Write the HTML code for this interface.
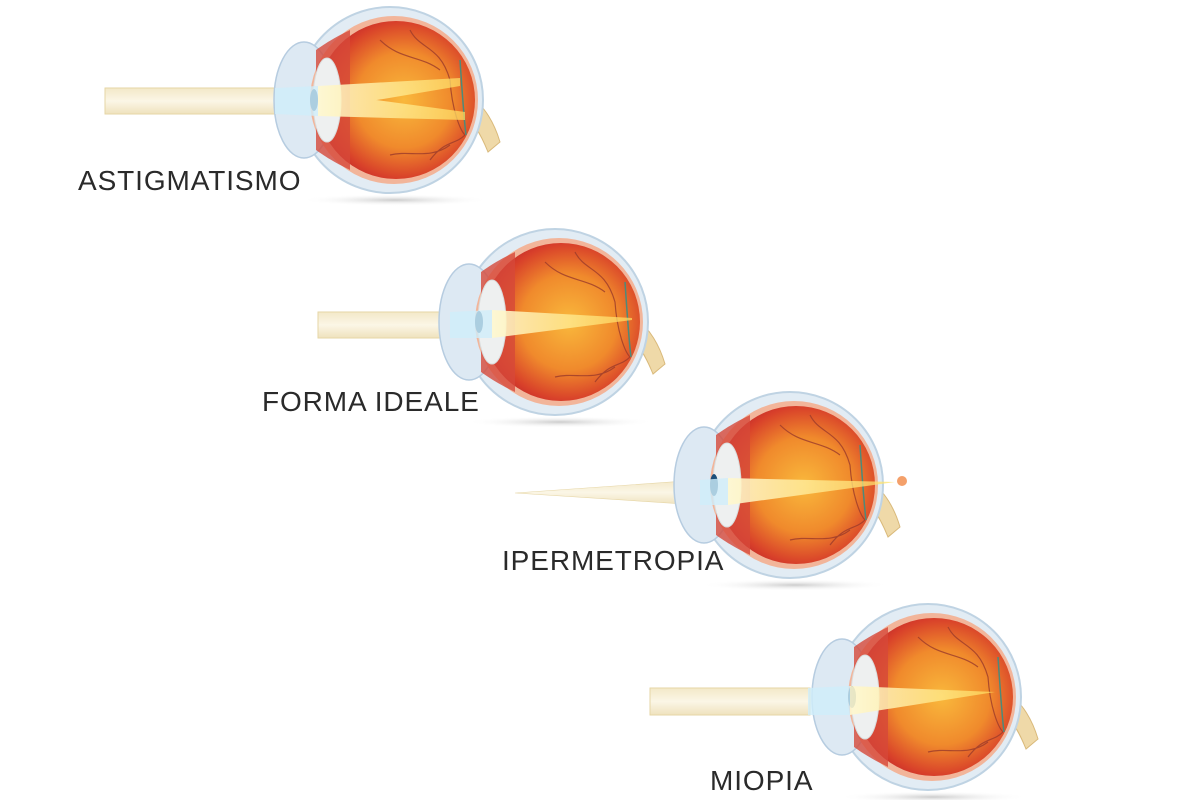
<!DOCTYPE html>
<html><head><meta charset="utf-8"><style>
html,body{margin:0;padding:0;background:#fff;width:1200px;height:800px;overflow:hidden}
svg{display:block}
text{font-family:"Liberation Sans",sans-serif;font-size:28px;fill:#2a2a2a;letter-spacing:0.9px}
</style></head><body>
<svg width="1200" height="800" viewBox="0 0 1200 800">
<defs>
<radialGradient id="rg" cx="0.55" cy="0.5" r="0.55">
<stop offset="0" stop-color="#f9b83c"/><stop offset="0.55" stop-color="#f08a2c"/><stop offset="0.9" stop-color="#d8402a"/><stop offset="1" stop-color="#c8302a"/></radialGradient>
<linearGradient id="beam" x1="0" y1="0" x2="0" y2="1"><stop offset="0" stop-color="#f3e8c8"/><stop offset="0.5" stop-color="#fbf6e6"/><stop offset="1" stop-color="#efe2bd"/></linearGradient>
<linearGradient id="yel" x1="0" y1="0" x2="1" y2="0"><stop offset="0" stop-color="#fff8d0" stop-opacity="0.9"/><stop offset="1" stop-color="#ffe060" stop-opacity="0.7"/></linearGradient>
<radialGradient id="sh" cx="0.5" cy="0.5" r="0.5"><stop offset="0" stop-color="#ccc"/><stop offset="1" stop-color="#fff" stop-opacity="0"/></radialGradient>
<g id="eye">
<ellipse cx="5" cy="100" rx="95" ry="6" fill="url(#sh)"/>
<path d="M78,-5 C95,5 105,25 110,42 L98,52 C90,32 82,20 72,12 Z" fill="#efd9a8" stroke="#d9b97a"/>
<circle cx="0" cy="0" r="93" fill="#e2ecf4" stroke="#bfd3e3" stroke-width="2"/>
<ellipse cx="-86" cy="0" rx="30" ry="58" fill="#dde9f3" stroke="#b6cce0" stroke-width="1.5"/>
<circle cx="4" cy="0" r="84" fill="#f2b59a"/>
<circle cx="6" cy="0" r="79" fill="url(#rg)"/>
<path d="M-74,-50 C-60,-60 -50,-65 -40,-70 L-40,70 C-50,65 -60,60 -74,50 Z" fill="#d6493a" opacity="0.8"/>
<ellipse cx="-63" cy="0" rx="14" ry="42" fill="#eef0f0" stroke="#d9dcdc"/>
<ellipse cx="-76" cy="0" rx="4" ry="11" fill="#1d4f7a"/>
<path d="M-10,-60 C10,-40 30,-45 50,-30 M20,-70 C30,-50 50,-55 60,-20 C62,10 70,30 75,35 M40,60 C55,40 65,45 75,35 M0,55 C20,50 40,60 60,45" stroke="#9b3b2a" stroke-width="1.2" fill="none" opacity="0.8"/>
<path d="M70,-40 C72,-10 74,20 76,35" stroke="#4c8a7a" stroke-width="1.5" fill="none"/>
</g>
</defs>

<rect x="105" y="88" width="175" height="26" fill="url(#beam)" stroke="#e6d6a6"/>
<use href="#eye" x="390" y="100"/>
<path d="M275,88 L318,86 L318,116 L275,114 Z" fill="#cfeefa" opacity="0.8"/>
<path d="M318,86 L460,78 L460,86 L318,110 Z M318,92 L465,112 L465,120 L318,116 Z" fill="url(#yel)"/>

<rect x="318" y="312" width="135" height="26" fill="url(#beam)" stroke="#e6d6a6"/>
<use href="#eye" x="555" y="322"/>
<path d="M450,312 L492,310 L492,338 L450,338 Z" fill="#cfeefa" opacity="0.8"/>
<path d="M492,310 L632,318 L632,320 L492,338 Z" fill="url(#yel)"/>

<path d="M515,493 L700,480 L700,505 Z" fill="url(#beam)" stroke="#e6d6a6" stroke-width="0.6"/>
<use href="#eye" x="790" y="485"/>
<path d="M700,480 L728,478 L728,505 L700,505 Z" fill="#cfeefa" opacity="0.8"/>
<path d="M728,478 L895,482 L728,505 Z" fill="url(#yel)"/>
<circle cx="902" cy="481" r="5" fill="#f4a06a"/>

<rect x="650" y="688" width="160" height="27" fill="url(#beam)" stroke="#e6d6a6"/>
<use href="#eye" x="928" y="697"/>
<path d="M808,688 L850,686 L850,715 L808,715 Z" fill="#cfeefa" opacity="0.8"/>
<path d="M850,686 L995,692 L850,715 Z" fill="url(#yel)"/>

<text x="78" y="190">ASTIGMATISMO</text>
<text x="262" y="411">FORMA IDEALE</text>
<text x="502" y="570">IPERMETROPIA</text>
<text x="710" y="790">MIOPIA</text>
</svg>
</body></html>
